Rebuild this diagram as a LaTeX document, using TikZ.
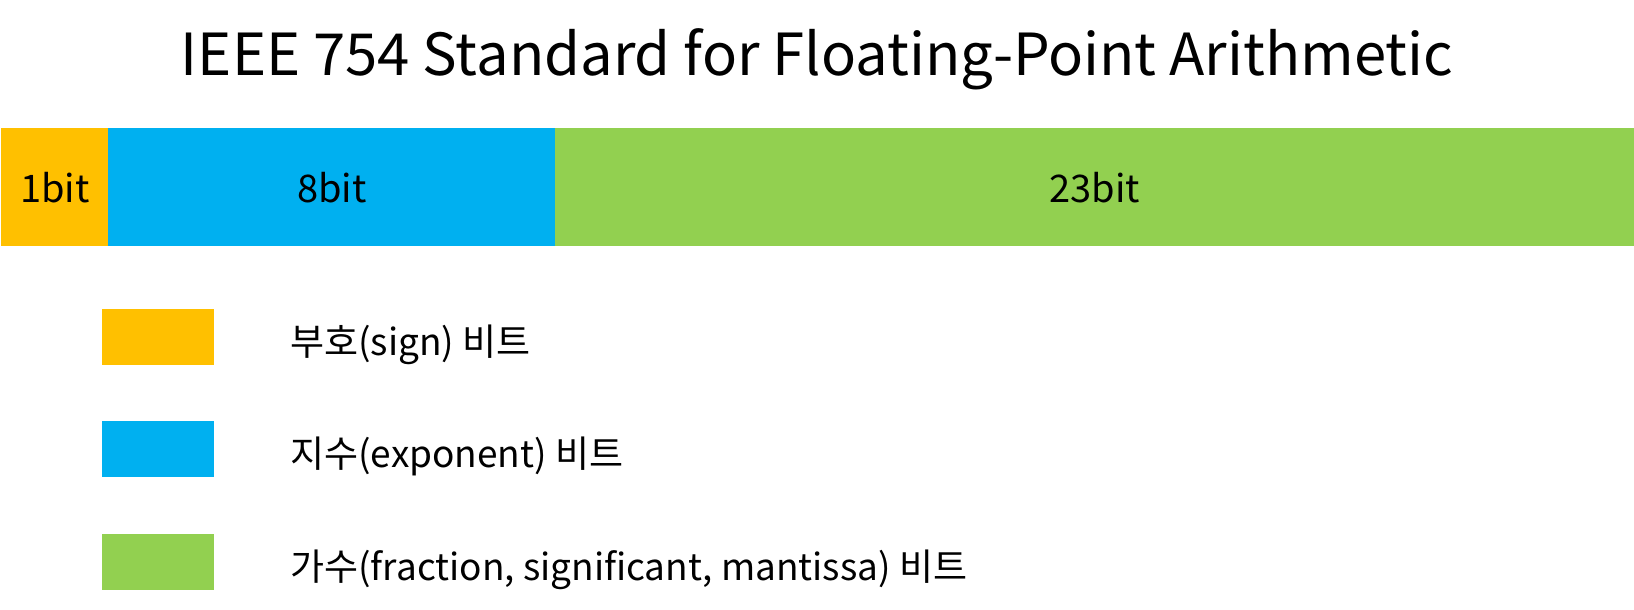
\documentclass[tikz,border=0pt]{standalone}
\usepackage{fontspec}
\setmainfont{Noto Sans CJK KR}
\definecolor{signc}{HTML}{FFC000}
\definecolor{expc}{HTML}{00B0F0}
\definecolor{fracc}{HTML}{92D050}
\begin{document}
\begin{tikzpicture}[x=1pt,y=-1pt]
%\draw[help lines] (0,0) grid (1634,610);
\tikzstyle{seg}=[rectangle,inner sep=0pt,minimum height=118pt,anchor=north west,font=\fontsize{38}{45}\selectfont]
\tikzstyle{key}=[rectangle,inner sep=0pt,minimum width=112pt,minimum height=56pt,anchor=north west]
\tikzstyle{txt}=[anchor=base west,inner sep=0pt,font=\fontsize{37}{44}\selectfont]
\useasboundingbox (0,0) rectangle (1634,610);

\node[anchor=base,inner sep=0pt,font=\fontsize{58}{68}\selectfont] (title) at (817,76) {IEEE 754 Standard for Floating-Point Arithmetic};

\node[seg,fill=signc,minimum width=107pt] (s) at (1,128) {1bit};
\node[seg,fill=expc,minimum width=447pt] (e) at (108,128) {8bit};
\node[seg,fill=fracc,minimum width=1079pt] (f) at (555,128) {23bit};

\node[key,fill=signc] (ks) at (102,309) {};
\node[key,fill=expc] (ke) at (102,421) {};
\node[key,fill=fracc] (kf) at (102,534) {};

\node[txt] (ls) at (290,355) {부호(sign) 비트};
\node[txt] (le) at (290,467) {지수(exponent) 비트};
\node[txt] (lf) at (290,580) {가수(fraction, significant, mantissa) 비트};
\end{tikzpicture}
\end{document}
